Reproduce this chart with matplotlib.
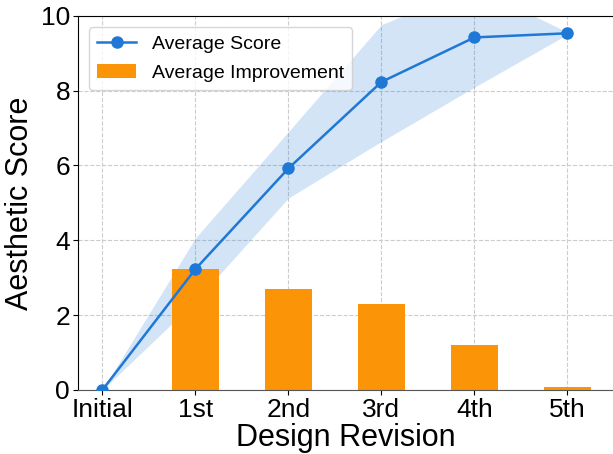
import matplotlib
matplotlib.use("Agg")
import matplotlib.pyplot as plt
import numpy as np

plt.rcParams['font.family'] = ['Liberation Sans', 'DejaVu Sans']

revisions = ['Initial', '1st', '2nd', '3rd', '4th', '5th']
avg_score = [0, 3.23, 5.92, 8.23, 9.42, 9.53]
score_low = [0, 2.37, 5.13, 6.64, 8.09, 9.50]
score_high = [0, 4.06, 6.90, 9.76, 10.77, 9.56]
improvement = [3.24, 2.70, 2.30, 1.20, 0.08]

blue = '#1f78d6'
orange = '#fb9406'

fig = plt.figure(figsize=(6.13, 4.54), dpi=100)
ax = fig.add_axes([0.1268, 0.141, 0.8732, 0.8244])

x = np.arange(len(revisions))
ax.fill_between(x, score_low, score_high, color=blue, alpha=0.2, linewidth=0, zorder=1)
ax.bar(x[1:], improvement, width=0.5, color=orange, label='Average Improvement', zorder=2)
ax.plot(x, avg_score, color=blue, lw=1.8, marker='o', ms=8, label='Average Score', zorder=3)

ax.set_xlim(-0.265, 5.49)
ax.set_ylim(0, 10)
ax.set_xticks(x)
ax.set_xticklabels(revisions)
ax.set_yticks([0, 2, 4, 6, 8, 10])
ax.tick_params(axis='both', labelsize=19)
ax.tick_params(axis='x', pad=2)
ax.tick_params(axis='y', pad=2)
ax.set_xlabel('Design Revision', fontsize=22, labelpad=1)
ax.set_ylabel('Aesthetic Score', fontsize=22, labelpad=4)
ax.grid(True, linestyle='--', color='#cccccc', linewidth=0.8, zorder=0)
ax.set_axisbelow(True)
ax.spines['right'].set_visible(False)
ax.spines['bottom'].set_color('#555555')

ax.legend(loc='upper left', fontsize=14, frameon=True, borderaxespad=0.6, labelspacing=0.6)

fig.savefig('out.png', dpi=100)
